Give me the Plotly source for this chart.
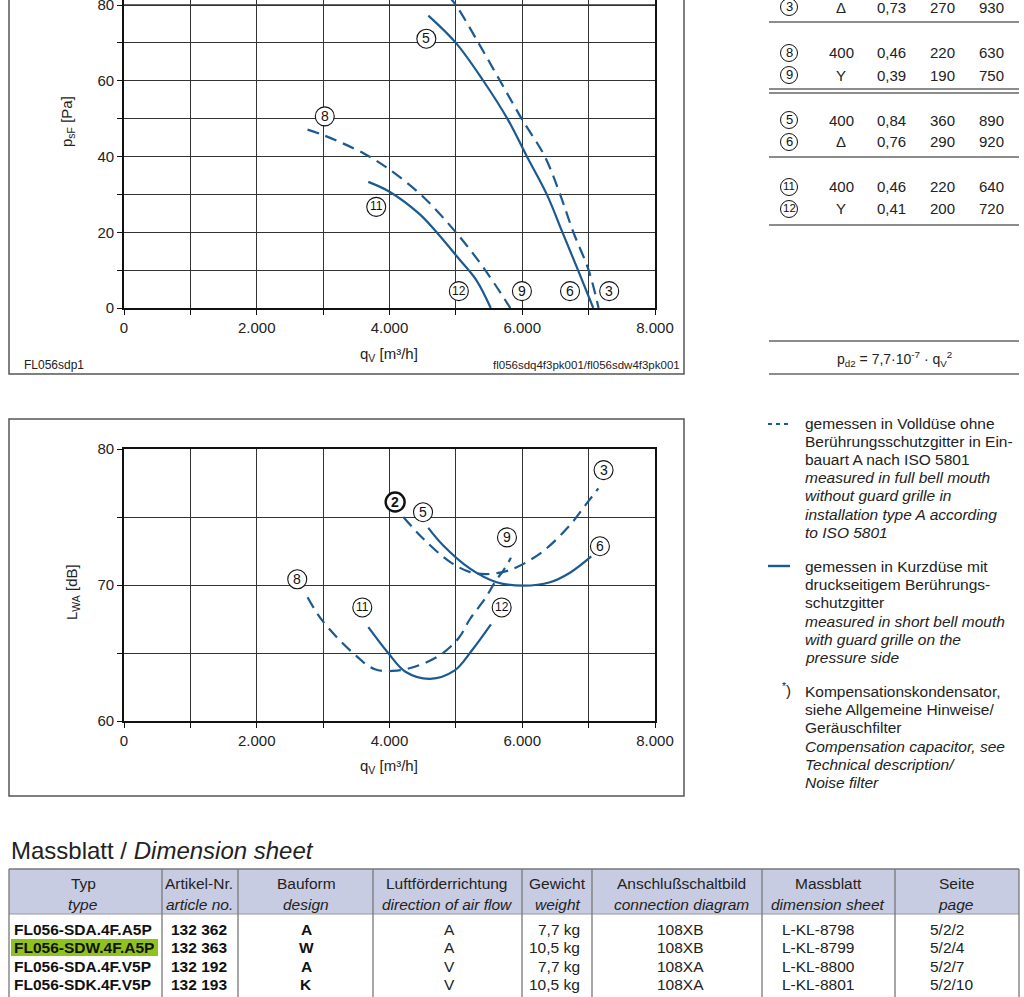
import plotly.graph_objects as go

W, H = 1024, 997
FONT = "Liberation Sans, Arial, sans-serif"
BLUE = "#1b5a91"
GRID = "#333333"


def px(x):
    return x / W


def py(y):
    return 1 - y / H


# ---------------- data: pressure chart (q_V [m3/h], p_sF [Pa]) ----------------
p3_q = [4880, 5000, 5340, 5665, 5990, 6340, 6570, 6770, 7000, 7150]
p3_p = [82.5, 80, 70, 60, 50, 40, 30, 20, 10, 0]
p5_q = [4585, 5000, 5413, 5775, 6070, 6370, 6605, 6840, 7070]
p5_p = [77.2, 70, 60, 50, 40, 30, 20, 10, 0]
p8_q = [2765, 3010, 3615, 3980, 4480, 4975, 5410, 5820]
p8_p = [47.1, 45.6, 40.8, 36.8, 29.8, 20.5, 10.8, 0]
p11_q = [3680, 4000, 4445, 4710, 5045, 5310, 5525]
p11_p = [33.3, 30.7, 24.9, 20.0, 13.0, 7.3, 0]

# ---------------- data: sound chart (q_V [m3/h], L_WA [dB]) ----------------
s3_q = [4208, 4510, 4911, 5213, 5450, 5700, 5916, 6318, 6719, 6971, 7146]
s3_l = [75.0, 73.4, 71.7, 70.95, 70.8, 70.95, 71.3, 72.5, 74.4, 76.0, 77.1]
s5_q = [4584, 4810, 5213, 5614, 6016, 6418, 6719, 7040]
s5_l = [74.2, 72.9, 71.2, 70.2, 69.95, 70.2, 70.9, 72.1]
s8_q = [2765, 2985, 3450, 3780, 4113, 4445, 4778, 5043, 5213, 5440, 5600, 5720, 5830]
s8_l = [69.1, 67.4, 65.0, 63.8, 63.7, 64.1, 64.9, 66.1, 67.5, 69.0, 70.3, 71.1, 72.0]
s11_q = [3681, 3980, 4246, 4611, 4977, 5243, 5528]
s11_l = [66.9, 65.0, 63.6, 63.1, 63.7, 65.2, 67.1]

# curve labels (number, q_V, value)
p_lab_txt = ["5", "8", "11", "12", "9", "6", "3"]
p_lab_q = [4555, 3025, 3800, 5045, 5995, 6720, 7310]
p_lab_v = [71.1, 50.6, 26.7, 4.45, 4.45, 4.45, 4.45]
s_lab_txt = ["2", "5", "3", "9", "6", "8", "11", "12"]
s_lab_q = [4085, 4505, 7225, 5770, 7170, 2610, 3590, 5690]
s_lab_v = [76.1, 75.35, 78.45, 73.5, 72.85, 70.42, 68.35, 68.35]

# axis ticks (labelled major ticks + unlabelled minor grid ticks)
x_tickvals = [0, 2000, 4000, 6000, 8000]
x_ticktext = ["0", "2.000", "4.000", "6.000", "8.000"]
x_minor = [1000, 3000, 5000, 7000]
yp_tickvals = [0, 20, 40, 60, 80]
yp_ticktext = ["0", "20", "40", "60", "80"]
yp_minor = [10, 30, 50, 70]
ys_tickvals = [60, 70, 80]
ys_ticktext = ["60", "70", "80"]
ys_minor = [65, 75]

# electrical data table (top right)
tr_id = ["3", "8", "9", "5", "6", "11", "12"]
tr_volt = ["Δ", "400", "Y", "400", "Δ", "400", "Y"]
tr_amp = ["0,73", "0,46", "0,39", "0,84", "0,76", "0,46", "0,41"]
tr_watt = ["270", "220", "190", "360", "290", "220", "200"]
tr_rpm = ["930", "630", "750", "890", "920", "640", "720"]

# dimension table
dt_head_de = ["Typ", "Artikel-Nr.", "Bauform", "Luftförderrichtung", "Gewicht",
              "Anschlußschaltbild", "Massblatt", "Seite"]
dt_head_en = ["type", "article no.", "design", "direction of air flow", "weight",
              "connection diagram", "dimension sheet", "page"]
dt_type = ["FL056-SDA.4F.A5P", "FL056-SDW.4F.A5P", "FL056-SDA.4F.V5P", "FL056-SDK.4F.V5P"]
dt_article = ["132 362", "132 363", "132 192", "132 193"]
dt_design = ["A", "W", "A", "K"]
dt_flow = ["A", "A", "V", "V"]
dt_weight = ["7,7 kg", "10,5 kg", "7,7 kg", "10,5 kg"]
dt_diagram = ["108XB", "108XB", "108XA", "108XA"]
dt_sheet = ["L-KL-8798", "L-KL-8799", "L-KL-8800", "L-KL-8801"]
dt_page = ["5/2/2", "5/2/4", "5/2/7", "5/2/10"]

legend_lines = [
    ("gemessen in Volldüse ohne", 424), ("Berührungsschutzgitter in Ein-", 442),
    ("bauart A nach ISO 5801", 460), ("<i>measured in full bell mouth</i>", 478),
    ("<i>without guard grille in</i>", 496), ("<i>installation type A according</i>", 514),
    ("<i>to ISO 5801</i>", 532),
    ("gemessen in Kurzdüse mit", 566), ("druckseitigem Berührungs-", 584),
    ("schutzgitter", 602), ("<i>measured in short bell mouth</i>", 621),
    ("<i>with guard grille on the</i>", 639), ("<i>pressure side</i>", 657),
    ("Kompensationskondensator,", 691), ("siehe Allgemeine Hinweise/", 709),
    ("Geräuschfilter", 727), ("<i>Compensation capacitor, see</i>", 746),
    ("<i>Technical description/</i>", 764), ("<i>Noise filter</i>", 782),
]

# ---------------- figure ----------------
fig = go.Figure()

dashed = dict(color=BLUE, width=2.2, dash="12px,7px", shape="spline")
solid = dict(color=BLUE, width=2.2, shape="spline")

fig.add_trace(go.Scatter(x=p3_q, y=p3_p, mode="lines", line=dashed, xaxis="x", yaxis="y"))
fig.add_trace(go.Scatter(x=p5_q, y=p5_p, mode="lines", line=solid, xaxis="x", yaxis="y"))
fig.add_trace(go.Scatter(x=p8_q, y=p8_p, mode="lines", line=dashed, xaxis="x", yaxis="y"))
fig.add_trace(go.Scatter(x=p11_q, y=p11_p, mode="lines", line=solid, xaxis="x", yaxis="y"))

fig.add_trace(go.Scatter(x=s3_q, y=s3_l, mode="lines", line=dashed, xaxis="x2", yaxis="y2"))
fig.add_trace(go.Scatter(x=s5_q, y=s5_l, mode="lines", line=solid, xaxis="x2", yaxis="y2"))
fig.add_trace(go.Scatter(x=s8_q, y=s8_l, mode="lines", line=dashed, xaxis="x2", yaxis="y2"))
fig.add_trace(go.Scatter(x=s11_q, y=s11_l, mode="lines", line=solid, xaxis="x2", yaxis="y2"))

ax_common = dict(
    showgrid=True, gridcolor=GRID, gridwidth=1.3, zeroline=False, automargin=False,
    showline=True, linecolor="#111", linewidth=1.6, ticklabeloverflow="allow",
    ticks="outside", ticklen=5, tickcolor="#111", tickwidth=1.3,
    tickfont=dict(family=FONT, size=15, color="#222"), tickmode="array",
)


def minor(vals):
    return dict(tickmode="array", tickvals=vals, showgrid=True, gridcolor=GRID,
                gridwidth=1.3, ticks="outside", ticklen=5, tickcolor="#111", tickwidth=1.3)


x_dom = [px(124), px(655)]
yp_bottom, yp_top = 308, 5
yp_scale = (yp_bottom - yp_top) / 80.0
yp_max = yp_bottom / yp_scale

fig.update_layout(
    width=W, height=H, margin=dict(l=0, r=0, t=0, b=0, pad=0), autosize=False,
    paper_bgcolor="white", plot_bgcolor="white", showlegend=False,
    xaxis=dict(domain=x_dom, range=[0, 8000], tickvals=x_tickvals, ticktext=x_ticktext,
               minor=minor(x_minor), anchor="y", mirror=False, **ax_common),
    yaxis=dict(domain=[py(308), 1], range=[0, yp_max], tickvals=yp_tickvals,
               ticktext=yp_ticktext, minor=minor(yp_minor), anchor="x", mirror=True,
               **ax_common),
    xaxis2=dict(domain=x_dom, range=[0, 8000], tickvals=x_tickvals, ticktext=x_ticktext,
                minor=minor(x_minor), anchor="y2", mirror=True, **ax_common),
    yaxis2=dict(domain=[py(721), py(449)], range=[60, 80], tickvals=ys_tickvals,
                ticktext=ys_ticktext, minor=minor(ys_minor), anchor="x2", mirror=True,
                **ax_common),
)

ann = []
shapes = []


def text(x, y, t, size=15, xanchor="center", yanchor="middle", color="#222",
         family=FONT, angle=0):
    ann.append(dict(x=px(x), y=py(y), xref="paper", yref="paper", text=t,
                    showarrow=False, xanchor=xanchor, yanchor=yanchor,
                    textangle=angle, font=dict(family=family, size=size, color=color)))


def hline(x0, x1, y, color="#555", width=1.5):
    shapes.append(dict(type="line", xref="paper", yref="paper", x0=px(x0), x1=px(x1),
                       y0=py(y), y1=py(y), line=dict(color=color, width=width)))


def vline(x, y0, y1, color="#555", width=1.5):
    shapes.append(dict(type="line", xref="paper", yref="paper", x0=px(x), x1=px(x),
                       y0=py(y0), y1=py(y1), line=dict(color=color, width=width)))


def circled(x, y, label, xref, yref, r=9.5, width=1.1, bold=False, size=None):
    shapes.append(dict(type="circle", xref=xref, yref=yref, xsizemode="pixel",
                       ysizemode="pixel", xanchor=x, yanchor=y, x0=-r, x1=r, y0=-r, y1=r,
                       line=dict(color="#111", width=width), fillcolor="white"))
    if size is None:
        size = 14 if len(label) == 1 else 12
    t = "<b>" + label + "</b>" if bold else label
    ann.append(dict(x=x, y=y, xref=xref, yref=yref, text=t, showarrow=False,
                    xanchor="center", yanchor="middle", yshift=0.5,
                    font=dict(family=FONT, size=size, color="#111")))


# top gridline of the pressure chart (close to the page edge)
shapes.append(dict(type="line", xref="x domain", yref="y", x0=0, x1=1,
                   y0=yp_tickvals[-1], y1=yp_tickvals[-1], layer="below",
                   line=dict(color=GRID, width=1.3)))

# curve labels
for t, q, v in zip(p_lab_txt, p_lab_q, p_lab_v):
    circled(q, v, t, "x", "y")
for t, q, v in zip(s_lab_txt, s_lab_q, s_lab_v):
    if t == "2":
        circled(q, v, t, "x2", "y2", width=2.4, bold=True)
    else:
        circled(q, v, t, "x2", "y2")

# outer boxes of charts
shapes.append(dict(type="rect", xref="paper", yref="paper", x0=px(9), x1=px(684),
                   y0=py(374), y1=py(-5), line=dict(color="#555", width=1.5)))
shapes.append(dict(type="rect", xref="paper", yref="paper", x0=px(9), x1=px(684),
                   y0=py(796), y1=py(419), line=dict(color="#555", width=1.5)))

# axis titles & chart ids
text(68, 122, "p<sub>sF</sub> [Pa]", size=15, angle=-90)
text(389, 355, "q<sub>V</sub> [m³/h]", size=15)
text(72, 592, "L<sub>WA</sub> [dB]", size=15, angle=-90)
text(389, 766, "q<sub>V</sub> [m³/h]", size=15)
text(22, 365, "FL056sdp1", size=12, xanchor="left")
text(682, 365, "fl056sdq4f3pk001/fl056sdw4f3pk001", size=11.5, xanchor="right")

# top-right electrical table
tr_y = [7, 53, 75, 120, 142, 187, 209]
for i in range(len(tr_id)):
    y = tr_y[i]
    circled(px(789), py(y), tr_id[i], "paper", "paper", r=8.5, width=1.0,
            size=13 if len(tr_id[i]) == 1 else 11.5)
    text(841, y, tr_volt[i], size=15)
    text(891, y, tr_amp[i], size=15)
    text(942, y, tr_watt[i], size=15)
    text(991, y, tr_rpm[i], size=15)
for y in [22, 89, 93, 157, 225, 341, 374]:
    hline(769, 1019, y, color="#666", width=1.5)
text(894, 359, "p<sub>d2</sub> = 7,7·10<sup>-7</sup> · q<sub>V</sub><sup>2</sup>", size=14)

# legend
shapes.append(dict(type="line", xref="paper", yref="paper", x0=px(768), x1=px(791),
                   y0=py(424), y1=py(424), line=dict(color=BLUE, width=2.2, dash="4px,4px")))
shapes.append(dict(type="line", xref="paper", yref="paper", x0=px(768), x1=px(790),
                   y0=py(566), y1=py(566), line=dict(color=BLUE, width=2.4)))
text(786, 689, "<sup>*</sup>)", size=15)
for t, y in legend_lines:
    text(803, y, t, size=15.5, xanchor="left")

# dimension sheet title
text(9, 850, "Massblatt / <i>Dimension sheet</i>", size=24, xanchor="left", color="#222")

# dimension table
shapes.append(dict(type="rect", xref="paper", yref="paper", x0=px(9), x1=px(1019),
                   y0=py(914), y1=py(869), fillcolor="#c8cce2", line=dict(width=0),
                   layer="below"))
shapes.append(dict(type="rect", xref="paper", yref="paper", x0=px(11), x1=px(158),
                   y0=py(956), y1=py(939), fillcolor="#8fc21c", line=dict(width=0),
                   layer="below"))
hline(9, 1019, 869, color="#777", width=1.5)
hline(9, 1019, 914, color="#999", width=1)
for x in [9, 162, 238, 373, 522, 592, 762, 895, 1019]:
    vline(x, 869, 1000, color="#777", width=1.3)

head_x = [83, 199, 306, 447, 557, 681, 828, 956]
for de, en, x in zip(dt_head_de, dt_head_en, head_x):
    text(x, 883, de, size=15.5)
    text(x, 904, "<i>" + en + "</i>", size=15.5)

row_y = [929, 947, 966, 984]
for i in range(4):
    y = row_y[i]
    text(12, y, "<b>" + dt_type[i] + "</b>", size=15.5, xanchor="left", color="#111")
    text(199, y, "<b>" + dt_article[i] + "</b>", size=15.5, color="#111")
    text(306, y, "<b>" + dt_design[i] + "</b>", size=15.5, color="#111")
    text(449, y, dt_flow[i], size=15.5)
    text(582, y, dt_weight[i], size=15.5, xanchor="right")
    text(680, y, dt_diagram[i], size=15.5)
    text(818, y, dt_sheet[i], size=15.5)
    text(928, y, dt_page[i], size=15.5, xanchor="left")

fig.update_layout(annotations=ann, shapes=shapes)
fig.write_html(
    "out.html",
    config={"displayModeBar": False},
    post_script=(
        "document.documentElement.style.margin='0px';"
        "document.documentElement.style.overflow='hidden';"
        "document.body.style.margin='0px';"
        "document.body.style.overflow='hidden';"
        "var d=document.getElementById('{plot_id}');"
        "d.style.position='fixed';d.style.left='0px';d.style.top='0px';"
    ),
)
